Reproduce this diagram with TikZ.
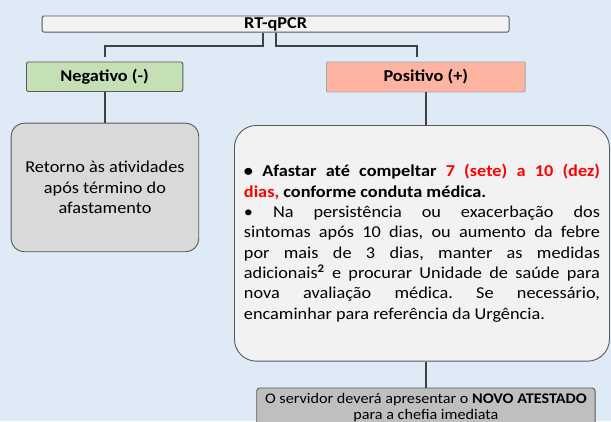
\documentclass[tikz,border=0pt]{standalone}
\usepackage{fontspec}
\setmainfont{Carlito}[FakeStretch=1.1]
\usepackage{tikz}
\usetikzlibrary{positioning,calc}
\definecolor{fundo}{HTML}{DEEBF7}
\definecolor{linha}{HTML}{404040}
\definecolor{borda}{HTML}{595959}
\definecolor{verde}{HTML}{C5E0B4}
\definecolor{salmao}{HTML}{FFB4A2}
\definecolor{vermelho}{HTML}{FF0000}
\frenchspacing

\begin{document}
\begin{tikzpicture}[x=1pt,y=-1pt,
  kasten/.style={draw=borda,line width=0.9pt,inner sep=0pt,font=\fontsize{16.6}{20.3}\selectfont},
  titel/.style={kasten,font=\bfseries\fontsize{16.6}{20.3}\selectfont,text height=12.6pt,text depth=3.6pt},
  verbinder/.style={draw=linha,line width=2pt}]
%Hintergrund und Bildgrenzen (611 x 421 Pixel, y zeigt nach unten)
\fill[fundo] (0,0) rectangle (611,421);
\useasboundingbox (0,0) rectangle (611,421);
%obere Zeile
\node[titel,fill=black!5,rounded corners=2pt,minimum width=467pt,minimum height=16pt,anchor=north west] (rt) at (41.7,15.5) {RT-qPCR};
\node[titel,fill=verde,rounded corners=2pt,minimum width=156.4pt,minimum height=29.5pt,anchor=north west] (neg) at (26,61.5) {Negativo (-)};
\node[titel,fill=salmao,draw=black!35,rounded corners=1pt,minimum width=198.7pt,minimum height=30pt,anchor=north west] (pos) at (326,61.5) {Positivo (+)};
%die beiden Kaesten darunter
\node[kasten,fill=black!15,rounded corners=13pt,minimum width=187.6pt,minimum height=128.6pt,anchor=north west,align=center] (retorno) at (10.7,122.7)
  {Retorno às atividades\\após término do\\afastamento};
\node[kasten,fill=black!5,rounded corners=22pt,minimum width=375pt,minimum height=235.7pt,anchor=north west,text width=356pt,align=justify] (afastar) at (234,125)
  {\hyphenpenalty=10000\textbf{• Afastar até compeltar \textcolor{vermelho}{7 (sete) a 10 (dez)}\linebreak
  \textcolor{vermelho}{dias,} conforme conduta médica.}\\
  • Na persistência ou exacerbação dos\linebreak
  sintomas após 10 dias, ou aumento da febre\linebreak
  por mais de 3 dias, manter as medidas\linebreak
  adicionais\textsuperscript{\textbf{2}} e procurar Unidade de saúde para\linebreak
  nova avaliação médica. Se necessário,\linebreak
  encaminhar para referência da Urgência.};
%unterer Kasten, ragt unten aus dem Bild
\node[kasten,fill=black!25,rounded corners=3pt,minimum width=338.3pt,inner ysep=5pt,anchor=north,align=center,font=\fontsize{14.7}{16.3}\selectfont] (atestado) at (425.9,387.5)
  {O servidor deverá apresentar o \textbf{NOVO ATESTADO}\\para a chefia imediata};
%Verbindungen
\draw[verbinder] ([xshift=-13pt]rt.south) -- ++(0,13) -| ([yshift=4.2pt]neg.north);
\draw[verbinder] (rt.south) -- ++(0,13) -| ([xshift=-8.6pt,yshift=4.2pt]pos.north);
\foreach \a/\b in {neg/retorno,pos/afastar}{
\draw[verbinder] (\a.south) -- (\a.south |- \b.north);
}
\draw[verbinder] (atestado.north |- afastar.south) -- (atestado.north);
\end{tikzpicture}
\end{document}
